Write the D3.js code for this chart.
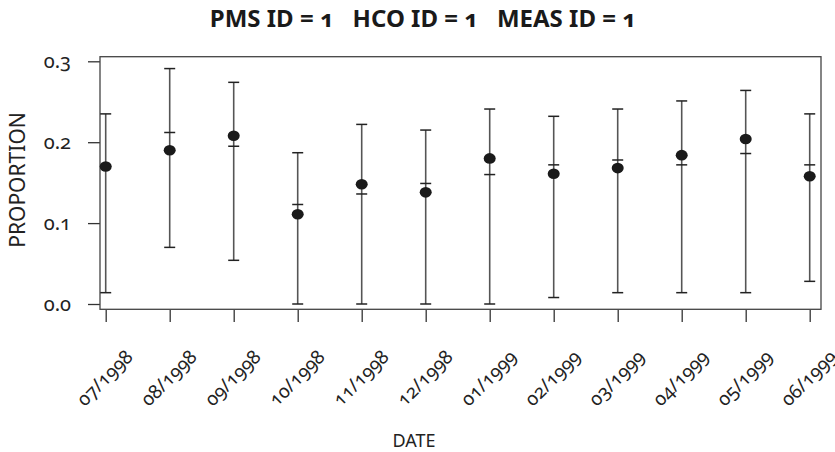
<!DOCTYPE html>
<html>
<head>
<meta charset="utf-8">
<script src="https://cdn.jsdelivr.net/npm/d3@7"></script>
<style>
  html, body { margin: 0; padding: 0; background: #fff; }
  svg { display: block; }
  text { font-family: "Noto Sans", "Open Sans", sans-serif; font-feature-settings: "onum" 1; font-variant-numeric: oldstyle-nums; fill: #222; }
</style>
</head>
<body>
<svg id="chart" width="835" height="452"></svg>
<script>
// Monthly proportion with interval bounds and a reference mark per month
const months = ["07/1998", "08/1998", "09/1998", "10/1998", "11/1998", "12/1998",
                "01/1999", "02/1999", "03/1999", "04/1999", "05/1999", "06/1999"];
const proportion = [0.170, 0.190, 0.208, 0.111, 0.148, 0.138, 0.180, 0.161, 0.168, 0.184, 0.204, 0.158];
const upper      = [0.235, 0.291, 0.274, 0.187, 0.222, 0.215, 0.241, 0.232, 0.241, 0.251, 0.264, 0.235];
const lower      = [0.014, 0.070, 0.054, 0.000, 0.000, 0.000, 0.000, 0.008, 0.014, 0.014, 0.014, 0.028];
const reference  = [0.170, 0.212, 0.195, 0.123, 0.136, 0.149, 0.160, 0.172, 0.178, 0.172, 0.186, 0.172];
const yTicks = [0.0, 0.1, 0.2, 0.3];

const svg = d3.select("#chart");

const box = { left: 100, right: 821, top: 56.7, bottom: 309.3 };

const x = d3.scaleLinear().domain([0, months.length - 1]).range([105.7, 809.7]);
const y = d3.scaleLinear().domain([0, 0.3]).range([304, 61.3]);

// Title
svg.append("text")
  .attr("x", 423).attr("y", 27)
  .attr("text-anchor", "middle")
  .style("white-space", "pre")
  .style("font-weight", "bold")
  .style("font-size", "24px")
  .style("fill", "#1a1a1a")
  .text("PMS ID = 1   HCO ID = 1   MEAS ID = 1");

// Y axis
const yAxis = svg.append("g")
  .attr("transform", `translate(${box.left},0)`)
  .call(d3.axisLeft(y).tickValues(yTicks).tickFormat(d3.format(".1f"))
    .tickSizeInner(12).tickSizeOuter(0).tickPadding(17));
yAxis.select(".domain").remove();
yAxis.selectAll(".tick line").attr("stroke", "#333").attr("stroke-width", 1.3);
yAxis.selectAll(".tick text").style("font-size", "20px").attr("dy", "0.3em").style("fill", "#222");

// X axis ticks
const xAxis = svg.append("g")
  .attr("transform", `translate(0,${box.bottom + 0.7})`)
  .call(d3.axisBottom(x).tickValues(d3.range(months.length)).tickFormat("")
    .tickSizeInner(12).tickSizeOuter(0));
xAxis.select(".domain").remove();
xAxis.selectAll(".tick line").attr("stroke", "#333").attr("stroke-width", 1.3);

// Rotated month labels
svg.append("g").selectAll("text")
  .data(months)
  .join("text")
  .attr("transform", (d, i) => `translate(${x(i) - 1},378) rotate(-45)`)
  .attr("text-anchor", "middle")
  .attr("dy", "0.35em")
  .style("font-size", "19px")
  .text(d => d);

// Axis titles
svg.append("text")
  .attr("x", 414).attr("y", 447)
  .attr("text-anchor", "middle")
  .style("font-size", "18px")
  .text("DATE");

svg.append("text")
  .attr("transform", "translate(25,180) rotate(-90)")
  .attr("text-anchor", "middle")
  .style("font-size", "21px")
  .text("PROPORTION");

// Plot frame
svg.append("rect")
  .attr("x", box.left).attr("y", box.top)
  .attr("width", box.right - box.left).attr("height", box.bottom - box.top)
  .attr("fill", "none").attr("stroke", "#444").attr("stroke-width", 1.3);

// Error bars
const capHalf = 5.5;
const bars = svg.append("g").selectAll("g")
  .data(months.map((m, i) => ({ i, p: proportion[i], lo: lower[i], hi: upper[i], ref: reference[i] })))
  .join("g");

bars.append("line")
  .attr("x1", d => x(d.i)).attr("x2", d => x(d.i))
  .attr("y1", d => y(d.lo)).attr("y2", d => y(d.hi))
  .attr("stroke", "#555").attr("stroke-width", 1.6);

["lo", "hi", "ref"].forEach(k => {
  bars.append("line")
    .attr("x1", d => x(d.i) - capHalf).attr("x2", d => x(d.i) + capHalf)
    .attr("y1", d => y(d[k])).attr("y2", d => y(d[k]))
    .attr("stroke", "#222").attr("stroke-width", 1.5);
});

bars.append("ellipse")
  .attr("cx", d => x(d.i)).attr("cy", d => y(d.p))
  .attr("rx", 6).attr("ry", 5.3)
  .attr("fill", "#1a1a1a");
</script>
</body>
</html>
